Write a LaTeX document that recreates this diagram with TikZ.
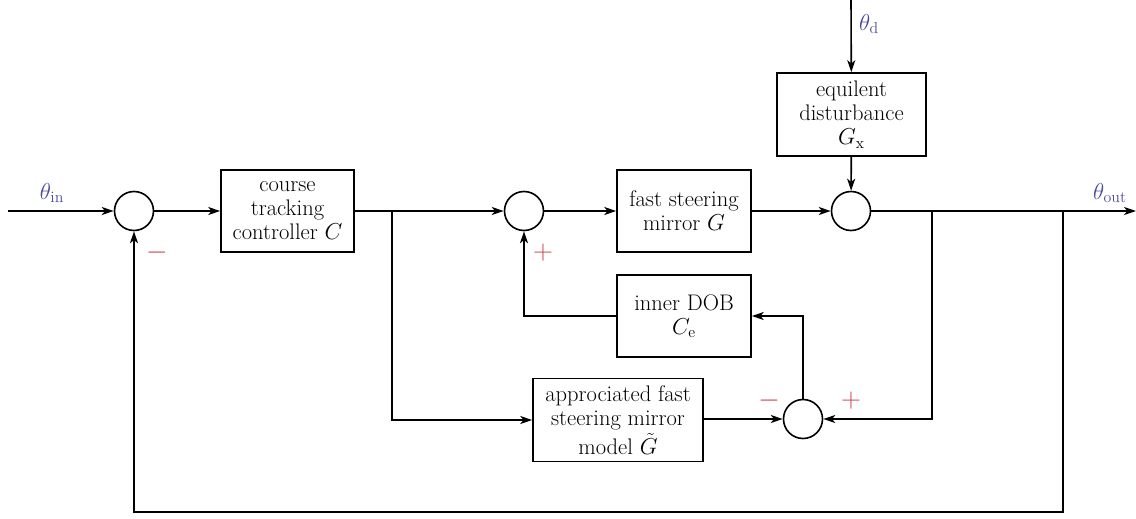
\documentclass[tikz,border=0pt]{standalone}
\usepackage{amsmath}
\usepackage{fontspec}
\usetikzlibrary{arrows.meta,positioning,calc}
\definecolor{bdSig}{HTML}{4A4A9C}
\definecolor{bdSign}{HTML}{C9484F}

\begin{document}
\begin{tikzpicture}[x=0.75pt, y=-0.75pt,
  blk/.style={draw, line width=1.2pt, align=center, inner sep=0pt, font=\fontsize{16.9}{18}\selectfont},
  sumnode/.style={draw, circle, line width=1.2pt, minimum size=29.25pt, inner sep=0pt},
  sig/.style={line width=1.2pt, -{Stealth[length=9pt,width=6pt,inset=2.5pt]}},
  lbl/.style={text=bdSig, font=\fontsize{17}{17}\selectfont},
  sgn/.style={text=bdSign, font=\fontsize{20}{20}\selectfont}]
  \useasboundingbox (0,0) rectangle (1136,518);

  % blocks
  \node[blk, minimum width=99.75pt, minimum height=61.5pt] (ctrl) at (287.5,211) {course\\tracking\\controller $C$};
  \node[blk, minimum width=100.5pt, minimum height=61.5pt] (fsm) at (684,211) {fast steering\\mirror $G$};
  \node[blk, minimum width=111.75pt, minimum height=62.25pt] (dist) at (851.5,114.5) {equilent\\disturbance\\$G_{\mathrm{x}}$};
  \node[blk, minimum width=100.5pt, minimum height=61.5pt] (dob) at (684,316) {inner DOB\\$C_{\mathrm{e}}$};
  \node[blk, minimum width=127.5pt, minimum height=62.25pt] (model) at (618,420) {approciated fast\\steering mirror\\[1.5pt]model $\tilde{G}$};

  % summing points
  \node[sumnode] (sumA) at (134,211) {};
  \node[sumnode] (sumB) at (524,211) {};
  \node[sumnode] (sumC) at (851,211) {};
  \node[sumnode] (sumD) at (803,419) {};

  % free ends and branch points
  \coordinate (in) at (8,211);
  \coordinate (out) at (1136,211);
  \coordinate (dtop) at (851,0);
  \coordinate (brCtrl) at (392,211);
  \coordinate (brDob) at (932,211);
  \coordinate (brFb) at (1063,211);

  % signals
  \draw[sig] (in) -- (sumA);
  \draw[sig] (sumA) -- (ctrl);
  \draw[sig] (ctrl) -- (sumB);
  \draw[sig] (brCtrl) |- (model.west);
  \draw[sig] (sumB) -- (fsm);
  \draw[sig] (fsm) -- (sumC);
  \draw[sig] (dtop) -- (dist);
  \draw[sig] (dist) -- (sumC);
  \draw[sig] (sumC) -- (out);
  \draw[sig] (brDob) |- (sumD.east);
  \draw[sig] (sumD.north) |- (dob.east);
  \draw[sig] (dob.west) -| (sumB.south);
  \draw[sig] (model.east |- sumD) -- (sumD);
  \draw[sig] (brFb) -- (1063,512) -| (sumA.south);

  % signal names
  \node[lbl] (thIn) at (52,193) {$\theta_{\mathrm{in}}$};
  \node[lbl] (thD) at (869,24) {$\theta_{\mathrm{d}}$};
  \node[lbl] (thOut) at (1110,193) {$\theta_{\mathrm{out}}$};

  % signs
  \foreach \s/\px/\py in {-/157/253, +/543/253, -/769/401, +/851/401}
    \node[sgn] at (\px,\py) {$\s$};
\end{tikzpicture}
\end{document}
